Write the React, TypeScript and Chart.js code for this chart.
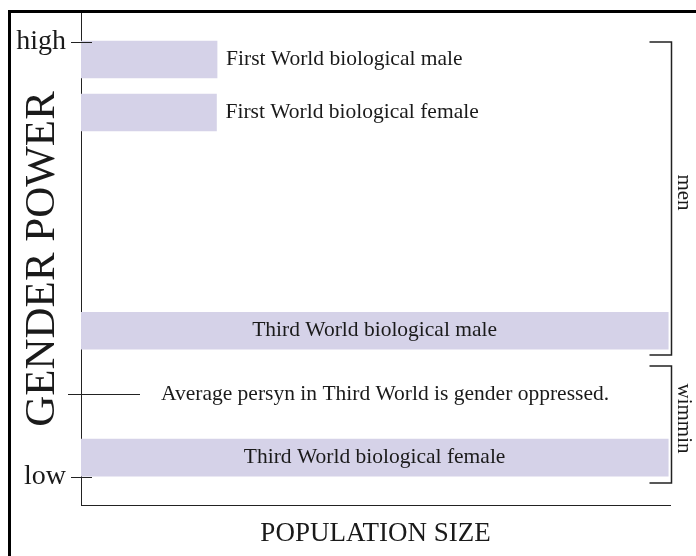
import { useEffect, useRef } from 'react';
import { Chart, registerables } from 'chart.js';

Chart.register(...registerables);

const barLabels = [
  'First World biological male',
  'First World biological female',
  'Third World biological male',
  'Third World biological female',
];
const genderPower = [96.0, 83.8, 33.6, 4.4];
const populationSize = [23.1, 23.0, 99.7, 99.7];

const powerTickValues = [0, 100];
const powerTickLabels = ['low', 'high'];
const powerMin = -6.5;
const powerMax = 106.7;
const popMin = 0;
const popMax = 100;

const averagePower = 19.1;
const averageText = 'Average persyn in Third World is gender oppressed.';

const groupNames = ['men', 'wimmin'];
const groupTop = [100, 25.5];
const groupBottom = [28.0, -1.4];

const SERIF = '"Liberation Serif", "Times New Roman", serif';
const INK = '#1a1a1a';

const decorations = {
  id: 'decorations',
  afterDraw(chart: any) {
    const { ctx, chartArea, scales } = chart;
    const y = scales.y;
    ctx.save();

    // outer frame
    ctx.fillStyle = '#000';
    ctx.fillRect(8, 10, chart.width - 8, 3);
    ctx.fillRect(8, 10, 3, chart.height - 10);

    // bar labels
    const meta = chart.getDatasetMeta(0);
    ctx.font = `21.5px ${SERIF}`;
    ctx.fillStyle = INK;
    ctx.textBaseline = 'middle';
    meta.data.forEach((bar: any, i: number) => {
      const p = bar.getProps(['x', 'y', 'base'], true);
      const text = barLabels[i];
      const w = ctx.measureText(text).width;
      if (p.x - p.base > w + 40) {
        ctx.textAlign = 'center';
        ctx.fillText(text, (p.x + p.base) / 2, p.y);
      } else {
        ctx.textAlign = 'left';
        ctx.fillText(text, p.x + 9, p.y);
      }
    });

    // tick marks crossing the axis
    ctx.strokeStyle = '#222';
    ctx.lineWidth = 1;
    powerTickValues.forEach((v) => {
      const py = Math.round(y.getPixelForValue(v)) + 0.5;
      ctx.beginPath();
      ctx.moveTo(chartArea.left - 10, py);
      ctx.lineTo(chartArea.left + 11, py);
      ctx.stroke();
    });

    // average marker and note
    const ay = Math.round(y.getPixelForValue(averagePower)) + 0.5;
    ctx.beginPath();
    ctx.moveTo(chartArea.left - 13, ay);
    ctx.lineTo(chartArea.left + 59, ay);
    ctx.stroke();
    ctx.textAlign = 'left';
    ctx.fillText(averageText, chartArea.left + 80, ay);

    // brackets
    const bx = chartArea.right + 1.5;
    ctx.lineWidth = 1.5;
    groupNames.forEach((name, i) => {
      const t = Math.round(y.getPixelForValue(groupTop[i]));
      const b = Math.round(y.getPixelForValue(groupBottom[i]));
      ctx.beginPath();
      ctx.moveTo(bx - 22, t);
      ctx.lineTo(bx, t);
      ctx.lineTo(bx, b);
      ctx.lineTo(bx - 22, b);
      ctx.stroke();
      ctx.save();
      ctx.translate(bx + 12, (t + b) / 2 - 6);
      ctx.rotate(Math.PI / 2);
      ctx.font = `21px ${SERIF}`;
      ctx.textAlign = 'center';
      ctx.textBaseline = 'middle';
      ctx.fillText(name, 0, 0);
      ctx.restore();
    });

    ctx.restore();
  },
};

export default function App() {
  const canvasRef = useRef<HTMLCanvasElement | null>(null);

  useEffect(() => {
    if (!canvasRef.current) return;
    const chart = new Chart(canvasRef.current, {
      type: 'bar',
      data: {
        datasets: [
          {
            data: genderPower.map((g, i) => ({ x: populationSize[i], y: g })),
            backgroundColor: 'rgb(213,210,232)',
            borderWidth: 0,
            barThickness: 37,
          },
        ],
      },
      options: {
        animation: false,
        responsive: false,
        indexAxis: 'y',
        layout: { padding: { left: 0, top: 13, right: 26, bottom: 0 } },
        plugins: { legend: { display: false }, tooltip: { enabled: false } },
        scales: {
          y: {
            type: 'linear',
            position: 'left',
            min: powerMin,
            max: powerMax,
            offset: false,
            z: 1,
            afterBuildTicks: (scale: any) => {
              scale.ticks = powerTickValues.map((v) => ({ value: v }));
            },
            afterFit: (scale: any) => {
              scale.width = 81;
              scale.paddingTop = 0;
              scale.paddingBottom = 0;
            },
            ticks: {
              padding: 15,
              color: INK,
              font: { family: SERIF, size: 28 },
              callback: (_v: any, i: number) => powerTickLabels[i],
            },
            grid: { display: false, drawTicks: false },
            border: { display: true, color: '#222', width: 1 },
            title: {
              display: true,
              text: 'GENDER POWER',
              color: INK,
              font: { family: SERIF, size: 43, lineHeight: 1 },
              padding: { top: 21, bottom: 0 },
            },
          },
          x: {
            type: 'linear',
            min: popMin,
            max: popMax,
            z: 1,
            afterFit: (scale: any) => {
              scale.height = 51;
              scale.paddingLeft = 0;
              scale.paddingRight = 0;
            },
            ticks: { display: false },
            grid: { display: false, drawTicks: false },
            border: { display: true, color: '#222', width: 1 },
            title: {
              display: true,
              text: 'POPULATION SIZE',
              color: INK,
              font: { family: SERIF, size: 27, lineHeight: 1 },
              padding: { top: 0, bottom: 8.5 },
            },
          },
        },
      },
      plugins: [decorations],
    });
    return () => chart.destroy();
  }, []);

  return (
    <canvas
      ref={canvasRef}
      width={696}
      height={556}
      style={{ position: 'fixed', left: 0, top: 0, display: 'block', background: '#fff' }}
    />
  );
}
